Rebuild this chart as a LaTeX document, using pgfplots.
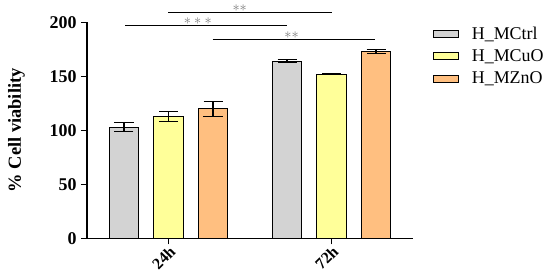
\documentclass[border=0pt]{standalone}
\usepackage{fontspec}
\setmainfont{Liberation Serif}
\usepackage{pgfplots}
\pgfplotsset{compat=1.18}
\definecolor{cgray}{HTML}{D3D3D3}
\definecolor{cyel}{HTML}{FFFF99}
\definecolor{corg}{HTML}{FFBF80}
\definecolor{cstar}{HTML}{7A7A7A}
\begin{document}
\begin{tikzpicture}
\path[use as bounding box] (-87bp,-38.7bp) rectangle (463bp,238.3bp);
\begin{axis}[
  scale only axis, width=326bp, height=216bp,
  xmin=-0.5, xmax=1.5, ymin=0, ymax=200,
  axis x line*=bottom, axis y line*=left,
  axis line style={line width=1.6bp, -},
  clip=false,
  ybar=15bp, bar width=29.5bp,
  ytick={0,50,100,150,200},
  xtick={0,1}, xticklabels={24h,72h},
  tick align=outside, major tick length=6bp,
  tick style={line width=1.3bp, black},
  /pgf/number format/assume math mode=true,
  y tick label style={font=\fontsize{18}{18}\selectfont\bfseries, xshift=-1bp},
  x tick label style={font=\fontsize{16}{16}\selectfont\bfseries, rotate=45, anchor=east, xshift=3bp, yshift=-6bp},
  ylabel={\% Cell viability},
  ylabel style={font=\fontsize{18.5}{18.5}\selectfont\bfseries, at={(axis description cs:-0.216,0.5)}, anchor=center},
  legend image code/.code={\draw[#1,draw=black,line width=0.8bp] (0bp,-3.5bp) rectangle (25bp,3.5bp);},
  legend style={at={(rel axis cs:1.061,0.99)}, anchor=north west, draw=none, fill=none,
    font=\fontsize{18}{18}\selectfont, row sep=5bp, inner sep=0pt,
    /tikz/every odd column/.append style={column sep=11bp}},
  legend cell align=left,
  error bars/y dir=both, error bars/y explicit,
  error bars/error mark=|,
  error bars/error bar style={line width=1.1bp, black},
  error bars/error mark options={line width=1.1bp, mark size=9.5bp, black},
]
\addplot[fill=cgray, draw=black, line width=1bp] coordinates {(0,103) +- (0,4.5) (1,164) +- (0,1.5)};
\addplot[fill=cyel, draw=black, line width=1bp] coordinates {(0,113) +- (0,4.7) (1,152) +- (0,0.5)};
\addplot[fill=corg, draw=black, line width=1bp] coordinates {(0,120) +- (0,7) (1,173) +- (0,1.5)};
\legend{H\_MCtrl,H\_MCuO,H\_MZnO}
\draw[line width=0.9bp] (axis cs:0,209.3) -- (axis cs:1,209.3);
\draw[line width=0.9bp] (axis cs:-0.266,197.5) -- (axis cs:0.729,197.5);
\draw[line width=0.9bp] (axis cs:0.27,184.3) -- (axis cs:1.265,184.3);
\node[text=cstar, anchor=base, inner sep=0pt, font=\Large] at (axis cs:0.437,210.3) {$\ast\ast$};
\node[text=cstar, anchor=base, inner sep=0pt, font=\Large] at (axis cs:0.18,198.3) {$\ast\ast\ast$};
\node[text=cstar, anchor=base, inner sep=0pt, font=\Large] at (axis cs:0.755,185.1) {$\ast\ast$};
\end{axis}
\end{tikzpicture}
\end{document}
